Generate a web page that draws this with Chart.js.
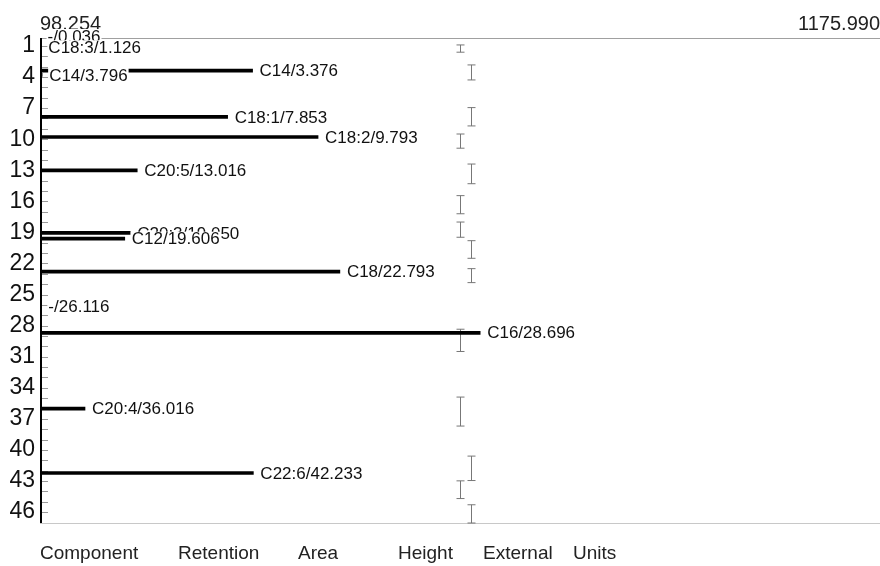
<html lang="en">
<head>
    <meta charSet="UTF-8"/>
    <title>Chromatogram</title>
    <style>
        body { margin: 0; background: #fff; }
    </style>
</head>
<body>
<canvas id="myChart" width="880" height="566"></canvas>
<script src="https://cdn.jsdelivr.net/npm/chart.js@4.4.1/dist/chart.umd.min.js"></script>
<script>
    // peaks: retention time (min), height (signal), component name
    const retention = [0.036, 1.126, 3.376, 3.796, 7.853, 9.793, 13.016, 19.050, 19.606, 22.793, 26.116, 28.696, 36.016, 42.233];
    const heights = [99, 100, 371, 101, 339, 455, 223, 214, 207, 483, 100, 663, 156, 372];
    const components = ['-', 'C18:3', 'C14', 'C14', 'C18:1', 'C18:2', 'C20:5', 'C20:3', 'C12', 'C18', '-', 'C16', 'C20:4', 'C22:6'];

    // identification windows (the grey I marks)
    const windowLow = [0.9, 2.83, 6.95, 9.5, 12.4, 15.45, 18.0, 19.8, 22.5, 28.35, 34.9, 40.6, 42.99, 45.3];
    const windowHigh = [1.6, 4.28, 8.72, 10.87, 14.3, 17.2, 19.47, 21.5, 23.85, 30.5, 37.7, 42.96, 44.7, 47.4];
    const windowSignal = [637, 651, 651, 637, 651, 637, 637, 651, 651, 637, 637, 651, 637, 651];

    const signalMin = 98.254;
    const signalMax = 1175.990;
    const timeTicks = [];
    for (let t = 1; t <= 46; t++) timeTicks.push(t);

    const headers = ['Component', 'Retention', 'Area', 'Height', 'External', 'Units'];

    const font = '"Liberation Sans", Arial, sans-serif';

    const chromPlugin = {
        id: 'chrom',
        beforeDatasetsDraw(chart) {
            const {ctx, chartArea: a, scales: {x, y}} = chart;
            ctx.save();
            // frame
            ctx.strokeStyle = '#a0a0a0';
            ctx.lineWidth = 1;
            ctx.beginPath();
            ctx.moveTo(a.left, a.top + 0.5);
            ctx.lineTo(a.right, a.top + 0.5);
            ctx.stroke();
            ctx.strokeStyle = '#c8c8c8';
            ctx.beginPath();
            ctx.moveTo(a.left, a.bottom + 0.5);
            ctx.lineTo(a.right, a.bottom + 0.5);
            ctx.stroke();
            // inner ticks
            ctx.strokeStyle = '#999';
            for (const t of timeTicks) {
                const py = Math.round(y.getPixelForValue(t)) + 0.5;
                ctx.beginPath();
                ctx.moveTo(a.left + 2, py);
                ctx.lineTo(a.left + 8, py);
                ctx.stroke();
            }
            // windows
            ctx.strokeStyle = '#777';
            for (let i = 0; i < windowLow.length; i++) {
                const px = Math.round(x.getPixelForValue(windowSignal[i])) + 0.5;
                const y1 = y.getPixelForValue(windowLow[i]);
                const y2 = Math.min(y.getPixelForValue(windowHigh[i]), a.bottom);
                ctx.beginPath();
                ctx.moveTo(px, y1);
                ctx.lineTo(px, y2);
                ctx.moveTo(px - 4, y1);
                ctx.lineTo(px + 4, y1);
                ctx.moveTo(px - 4, y2);
                ctx.lineTo(px + 4, y2);
                ctx.stroke();
            }
            ctx.restore();
        },
        afterDatasetsDraw(chart) {
            const {ctx, chartArea: a, scales: {x, y}} = chart;
            ctx.save();
            // left axis
            ctx.strokeStyle = '#000';
            ctx.lineWidth = 2;
            ctx.beginPath();
            ctx.moveTo(a.left + 1, a.top);
            ctx.lineTo(a.left + 1, a.bottom);
            ctx.stroke();
            // peak labels
            ctx.font = '17px ' + font;
            ctx.textBaseline = 'middle';
            for (let i = 0; i < retention.length; i++) {
                const text = components[i] + '/' + retention[i].toFixed(3);
                const px = x.getPixelForValue(heights[i]) + 7;
                const py = y.getPixelForValue(retention[i]) + 1;
                const w = ctx.measureText(text).width;
                ctx.fillStyle = '#fff';
                ctx.fillRect(px - 1, py - 8, w + 2, 16);
                ctx.fillStyle = '#111';
                ctx.fillText(text, px, py);
            }
            // column headers under the plot
            ctx.font = '19px ' + font;
            ctx.fillStyle = '#222';
            const hx = [40, 178, 298, 398, 483, 573];
            headers.forEach((h, i) => ctx.fillText(h, hx[i], 554));
            ctx.restore();
        }
    };

    const ctx = document.getElementById('myChart').getContext('2d');
    new Chart(ctx, {
        type: 'bar',
        data: {
            datasets: [{
                label: 'Signal',
                data: retention.map((t, i) => ({x: heights[i], y: t})),
                backgroundColor: '#000',
                barThickness: 3
            }]
        },
        options: {
            responsive: false,
            animation: false,
            indexAxis: 'y',
            layout: {padding: {top: 0, right: 0, bottom: 43, left: 0}},
            plugins: {
                legend: {display: false},
                tooltip: {enabled: false}
            },
            scales: {
                x: {
                    type: 'linear',
                    position: 'top',
                    min: signalMin,
                    max: signalMax,
                    afterBuildTicks: (s) => { s.ticks = [{value: signalMin}, {value: signalMax}]; },
                    afterFit: (s) => { s.height = 38; s.paddingLeft = 0; s.paddingRight = 0; },
                    grid: {display: false, drawTicks: false},
                    border: {display: false},
                    ticks: {
                        align: 'inner',
                        padding: 2,
                        color: '#222',
                        font: {family: font, size: 20},
                        callback: (v) => v.toFixed(3)
                    }
                },
                y: {
                    type: 'linear',
                    reverse: true,
                    offset: false,
                    min: 0.23,
                    max: 47.06,
                    afterBuildTicks: (s) => { s.ticks = timeTicks.map(v => ({value: v})); },
                    afterFit: (s) => { s.width = 40; },
                    grid: {display: false, drawTicks: false},
                    border: {display: false},
                    ticks: {
                        padding: 5,
                        color: '#111',
                        font: {family: font, size: 23},
                        callback: (v) => ((v - 1) % 3 === 0 ? String(v) : '')
                    }
                }
            }
        },
        plugins: [chromPlugin]
    });
</script>
</body>
</html>
